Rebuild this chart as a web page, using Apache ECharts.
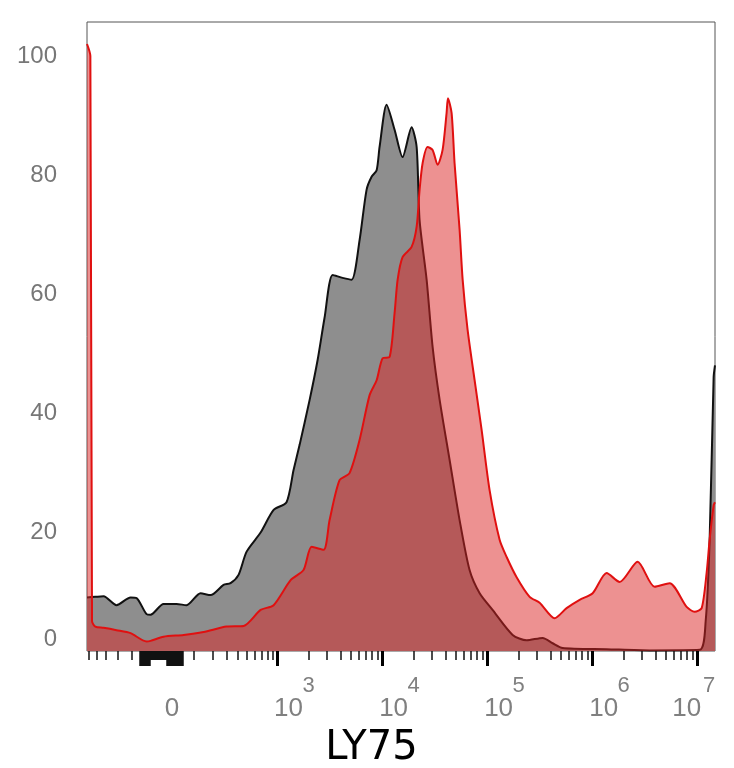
<!DOCTYPE html>
<html>
<head>
<meta charset="utf-8">
<script src="https://cdn.jsdelivr.net/npm/echarts@6/dist/echarts.min.js"></script>
<style>
    html, body { margin: 0; padding: 0; background: #fff; }
    #main { width: 734px; height: 768px; }
</style>
</head>
<body>
<div id="main"></div>
<script>
// x positions are on the display scale: 0 -> 2, 10^3 -> 3, 10^4 -> 4 ...
var grayX = [1.19, 1.269, 1.348, 1.471, 1.605, 1.662, 1.757, 1.795, 1.919, 2.043, 2.138, 2.271, 2.367, 2.490, 2.557,
    2.633, 2.710, 2.843, 2.967, 3.090, 3.157, 3.214, 3.310, 3.386, 3.452, 3.529, 3.624, 3.710, 3.786, 3.852, 3.900,
    3.948, 3.976, 4.043, 4.119, 4.195, 4.281, 4.329, 4.357, 4.424, 4.481, 4.548, 4.643, 4.738, 4.833, 4.929, 5.052,
    5.243, 5.376, 5.529, 5.624, 5.719, 6.138, 6.548, 7.024, 7.081, 7.119, 7.157, 7.17];
var grayY = [9.0, 9.1, 9.2, 7.7, 9.0, 8.9, 6.2, 6.1, 7.9, 7.9, 7.7, 9.7, 9.4, 11.1, 11.4,
    12.8, 16.7, 19.9, 23.7, 25.0, 30.4, 34.6, 42.2, 48.9, 56.0, 63.2, 62.7, 62.4, 69.1, 77.5, 79.7,
    80.8, 84.7, 91.8, 87.6, 83.0, 88.0, 84.7, 72.4, 62.4, 51.1, 42.2, 32.1, 22.0, 13.6, 9.7, 6.9,
    2.7, 1.8, 2.2, 1.3, 0.5, 0.3, 0.1, 0.2, 5.0, 18.7, 46.0, 48.0];

var redX = [1.19, 1.222, 1.238, 1.269, 1.348, 1.471, 1.605, 1.757, 1.795, 1.919, 2.110, 2.300, 2.519, 2.681, 2.843,
    2.967, 3.129, 3.252, 3.329, 3.443, 3.500, 3.595, 3.690, 3.786, 3.881, 3.948, 4.005, 4.071, 4.119, 4.148, 4.195,
    4.281, 4.329, 4.357, 4.386, 4.433, 4.481, 4.529, 4.576, 4.614, 4.627, 4.662, 4.690, 4.738, 4.767, 4.814, 4.881,
    4.948, 5.024, 5.119, 5.186, 5.281, 5.405, 5.500, 5.643, 5.757, 5.881, 6.005, 6.138, 6.262, 6.433, 6.595, 6.738,
    6.900, 6.976, 7.043, 7.090, 7.119, 7.157, 7.17];
var redY = [102, 100, 5, 4.1, 3.9, 3.5, 3.0, 1.6, 1.7, 2.4, 2.7, 3.2, 4.1, 4.2, 6.9,
    7.7, 11.9, 13.6, 17.5, 17.0, 22.0, 28.7, 29.9, 35.5, 43.0, 45.5, 49.2, 49.4, 56.8, 62.4, 66.2,
    67.9, 71.3, 77.5, 82.0, 84.7, 84.2, 81.7, 84.2, 90.4, 92.9, 90.4, 82.0, 70.8, 62.4, 54.0, 45.5,
    37.1, 27.0, 18.7, 15.8, 12.4, 9.1, 8.1, 5.5, 7.2, 8.6, 9.7, 13.1, 11.6, 15.0, 10.8, 11.4,
    7.4, 6.6, 7.2, 13.1, 18.7, 24.5, 25.0];

var yTicks = [0, 20, 40, 60, 80, 100];
var xLabelPos = [2, 3, 4, 5, 6, 7];
var xLabelExp = ['', '3', '4', '5', '6', '7'];
var majorTicks = [3, 4, 5, 6, 7];

var xMin = 1.19, xMax = 7.17;

// biexponential-like display transform for the ticks below 10^3
function biex(v) {
    return 2 + Math.asinh(v / 200) / Math.LN10;
}

var minorTicks = [];
for (var n = 3; n < 7; n++) {
    for (var m = 2; m < 10; m++) minorTicks.push(n + Math.log10(m));
}
for (var k = 1; k < 10; k++) {
    minorTicks.push(biex(k * 100));
    minorTicks.push(biex(-k * 100));
}
// dense linear ticks around zero
var clusterTicks = [], clusterTall = [];
for (var t = 1.69; t <= 2.10; t += 0.006) {
    clusterTicks.push(t);
    if (t < 1.79 || t > 1.95) clusterTall.push(t);
}
minorTicks = minorTicks.filter(function (v) { return v > xMin && v < xMax; }).concat(clusterTicks);

function zip(xs, ys) {
    return xs.map(function (x, i) { return [x, ys[i]]; });
}

var chart = echarts.init(document.getElementById('main'));

function baseX(extra) {
    var ax = {
        type: 'value', min: xMin, max: xMax,
        position: 'bottom',
        axisLine: { show: false },
        splitLine: { show: false },
        axisLabel: { show: false },
        axisTick: { show: false }
    };
    for (var key in extra) ax[key] = extra[key];
    return ax;
}

var labelFont = { fontFamily: 'Liberation Sans', color: '#808080' };
function lbl(size, pad) {
    return { fontSize: size, lineHeight: size, fontFamily: labelFont.fontFamily, color: labelFont.color, padding: pad };
}

var option = {
    animation: false,
    backgroundColor: '#fff',
    grid: {
        left: 87, right: 19, top: 22, bottom: 117,
        outerBoundsMode: 'none',
        containLabel: false,
        show: true, borderColor: '#555', borderWidth: 1
    },
    xAxis: [
        // major ticks + mantissa "10" / "0"
        baseX({
            name: 'LY75',
            nameLocation: 'middle',
            nameGap: 78,
            nameTextStyle: { fontSize: 40, fontFamily: 'DejaVu Sans', color: '#000', padding: [0, 59, 0, 0] },
            axisTick: { show: true, customValues: majorTicks, length: 15, lineStyle: { color: '#000', width: 3 } },
            axisLabel: {
                show: true,
                customValues: xLabelPos,
                margin: 45,
                formatter: function (v) {
                    var e = xLabelExp[xLabelPos.indexOf(Math.round(v))];
                    if (!e) return '{z|0}';
                    if (e === '7') return '{r|10}';
                    return '{l|10}';
                },
                rich: {
                    z: lbl(26, 0),
                    l: lbl(26, [0, 0, 0, 23]),
                    r: lbl(26, [0, 21, 0, 0])
                }
            }
        }),
        // exponents
        baseX({
            axisLabel: {
                show: true,
                customValues: xLabelPos,
                margin: 24,
                formatter: function (v) {
                    var e = xLabelExp[xLabelPos.indexOf(Math.round(v))];
                    if (!e) return '';
                    if (e === '7') return '{r|7}';
                    return '{l|' + e + '}';
                },
                rich: {
                    l: lbl(22, [0, 0, 0, 63]),
                    r: lbl(22, [0, 0, 0, 24])
                }
            }
        }),
        baseX({
            axisTick: { show: true, customValues: minorTicks, length: 9, lineStyle: { color: '#111', width: 1.5 } }
        }),
        baseX({
            axisTick: { show: true, customValues: clusterTall, length: 15, lineStyle: { color: '#111', width: 1.5 } }
        })
    ],
    yAxis: {
        type: 'value', min: 0, max: 105.7,
        axisLine: { show: false },
        axisTick: { show: false },
        splitLine: { show: false },
        axisLabel: {
            customValues: yTicks,
            margin: 30,
            fontSize: 24,
            fontFamily: 'Liberation Sans',
            color: '#777',
            verticalAlignMinLabel: 'bottom'
        }
    },
    series: [
        {
            name: 'control',
            type: 'line',
            showSymbol: false,
            smooth: 0.25,
            data: zip(grayX, grayY),
            lineStyle: { color: '#111', width: 2 },
            areaStyle: { color: '#8e8e8e', opacity: 1 },
            z: 2
        },
        {
            name: 'LY75',
            type: 'line',
            showSymbol: false,
            smooth: 0.25,
            data: zip(redX, redY),
            lineStyle: { color: '#e01010', width: 2 },
            areaStyle: { color: 'rgba(220,35,35,0.5)', opacity: 1 },
            z: 3
        }
    ]
};

chart.setOption(option);
</script>
</body>
</html>
